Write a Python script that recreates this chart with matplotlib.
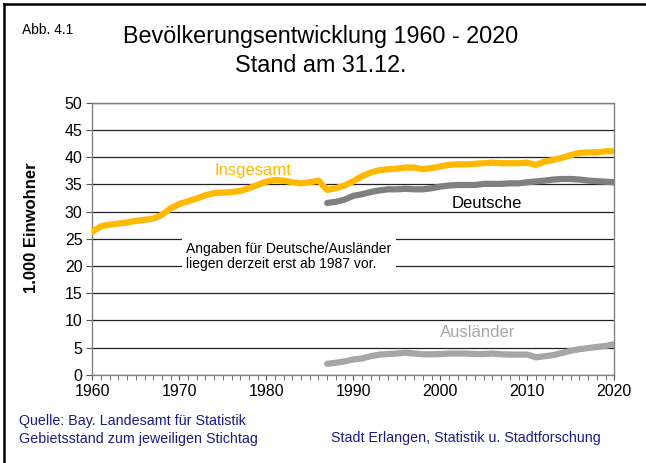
import matplotlib.pyplot as plt
from matplotlib.lines import Line2D
from matplotlib.ticker import MultipleLocator

plt.rcParams['font.family'] = ['Liberation Sans', 'DejaVu Sans']

# Jahre
years_total = list(range(1960, 2021))
years_split = list(range(1987, 2021))

# Bevölkerung in 1.000
insgesamt = [
    26.3, 27.3, 27.6, 27.8, 28.0, 28.3, 28.5, 28.7, 29.4, 30.6,
    31.4, 31.9, 32.4, 33.0, 33.4, 33.5, 33.6, 33.8, 34.3, 34.9,
    35.5, 35.8, 35.7, 35.4, 35.2, 35.4, 35.7, 34.0, 34.3, 34.8,
    35.6, 36.5, 37.2, 37.6, 37.8, 37.9, 38.1, 38.1, 37.8, 38.0,
    38.3, 38.6, 38.7, 38.7, 38.8, 38.9, 39.0, 38.9, 38.9, 38.9,
    39.0, 38.6, 39.2, 39.5, 39.9, 40.4, 40.8, 40.9, 40.9, 41.1,
    41.1,
]
deutsche = [
    31.6, 31.8, 32.2, 32.9, 33.2, 33.6, 33.9, 34.1, 34.1, 34.2,
    34.1, 34.1, 34.3, 34.6, 34.8, 34.9, 34.9, 34.9, 35.1, 35.1,
    35.1, 35.2, 35.2, 35.4, 35.55, 35.7, 35.9, 36.0, 36.0, 35.9,
    35.7, 35.6, 35.5, 35.4,
]
auslaender = [
    2.0, 2.2, 2.45, 2.8, 3.0, 3.4, 3.7, 3.8, 3.9, 4.05,
    3.9, 3.75, 3.75, 3.8, 3.9, 3.9, 3.9, 3.8, 3.8, 3.9,
    3.75, 3.7, 3.7, 3.7, 3.2, 3.4, 3.6, 4.0, 4.4, 4.7,
    4.9, 5.1, 5.3, 5.6,
]

gold = '#FFB900'
dunkelgrau = '#808080'
hellgrau = '#A6A6A6'
blau = '#1A1A8C'

fig = plt.figure(figsize=(6.46, 4.63), dpi=100)
ax = fig.add_axes([0.1429, 0.1907, 0.8080, 0.5871])

ax.plot(years_total, insgesamt, color=gold, lw=4.5, solid_capstyle='round', zorder=3)
ax.plot(years_split, deutsche, color=dunkelgrau, lw=4.5, solid_capstyle='round', zorder=3)
ax.plot(years_split, auslaender, color=hellgrau, lw=4.5, solid_capstyle='round', zorder=3)

ax.set_xlim(1960, 2020)
ax.set_ylim(0, 50)
ax.xaxis.set_major_locator(MultipleLocator(10))
ax.xaxis.set_minor_locator(MultipleLocator(1))
ax.yaxis.set_major_locator(MultipleLocator(5))
ax.grid(axis='y', color='#222222', lw=0.9, zorder=1)

for s in ['left', 'bottom', 'right', 'top']:
    ax.spines[s].set_color('#808080')
    ax.spines[s].set_linewidth(1.0)
ax.tick_params(axis='both', which='both', color='#555555', direction='out')
ax.tick_params(axis='y', length=4, pad=3, labelsize=11.5)
ax.tick_params(axis='x', which='major', length=3.5, pad=3, labelsize=11.5)
ax.tick_params(axis='x', which='minor', length=3.5)

ax.set_ylabel('1.000 Einwohner', fontsize=12, fontweight='bold')
ax.yaxis.set_label_coords(-0.103, 0.54)

ax.text(1974.0, 37.5, 'Insgesamt', color=gold, fontsize=12, va='center')
ax.text(2001.3, 31.5, 'Deutsche', color='black', fontsize=12, va='center')
ax.text(2000.0, 7.8, 'Ausländer', color=hellgrau, fontsize=12, va='center')
ax.text(1970.8, 21.7, 'Angaben für Deutsche/Ausländer\nliegen derzeit erst ab 1987 vor.',
        fontsize=10, va='center', ha='left', linespacing=1.1, zorder=4,
        bbox=dict(facecolor='white', edgecolor='none', pad=3))

fig.text(22 / 646, 1 - 30 / 463, 'Abb. 4.1', fontsize=10, va='center', ha='left',
         family=['Liberation Sans Narrow', 'Liberation Sans'])
fig.text(321 / 646, 1 - 37 / 463, 'Bevölkerungsentwicklung 1960 - 2020', fontsize=16.8,
         va='center', ha='center')
fig.text(321 / 646, 1 - 66 / 463, 'Stand am 31.12.', fontsize=16.8, va='center', ha='center')

fig.text(19 / 646, 1 - 421 / 463, 'Quelle: Bay. Landesamt für Statistik', fontsize=10.3,
         color=blau, va='center', ha='left')
fig.text(19 / 646, 1 - 439 / 463, 'Gebietsstand zum jeweiligen Stichtag', fontsize=10.3,
         color=blau, va='center', ha='left')
fig.text(331 / 646, 1 - 438 / 463, 'Stadt Erlangen, Statistik u. Stadtforschung', fontsize=10.3,
         color=blau, va='center', ha='left')

# Rahmen links und oben
fig.add_artist(Line2D([4 / 646, 4 / 646], [0, 1 - 4 / 463], color='black', lw=1.8,
                      transform=fig.transFigure))
fig.add_artist(Line2D([4 / 646, 1], [1 - 4 / 463, 1 - 4 / 463], color='black', lw=1.8,
                      transform=fig.transFigure))

fig.savefig('out.png', dpi=100)
